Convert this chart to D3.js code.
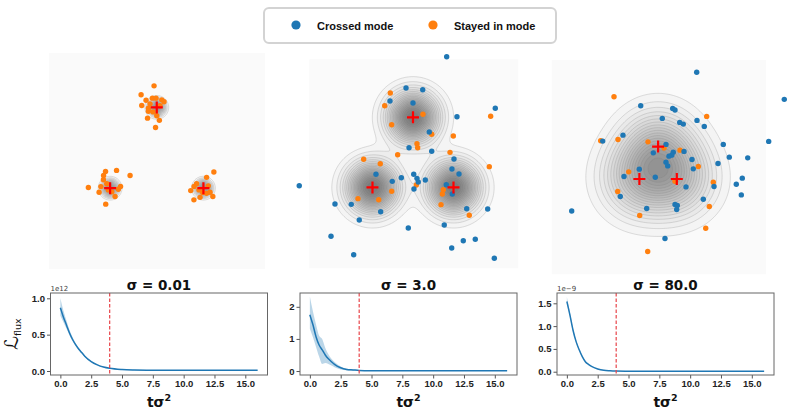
<!DOCTYPE html>
<html>
<head>
<meta charset="utf-8">
<script src="https://cdn.jsdelivr.net/npm/d3@7"></script>
<style>
  body { margin: 0; background: #fff; }
  svg { display: block; font-family: 'DejaVu Sans', sans-serif; }
  .tick text { font-size: 9.5px; font-weight: bold; fill: #222; }
  .tick line { stroke: #555; }
  .title { font-size: 13.5px; font-weight: bold; fill: #111; }
  .xlabel { font-size: 14px; font-weight: bold; fill: #111; }
  .offset { font-size: 7px; fill: #444; }
  .legend text { font-family: 'Liberation Sans', Arial, sans-serif; font-size: 11px; font-weight: bold; fill: #111; }
</style>
</head>
<body>
<svg id="chart" width="794" height="411"></svg>
<script>
// target modes (shared by the three panels) and panel settings
const modes = [[0, 5.77], [-5, -2.89], [5, -2.89]]
const sigmaLabels = ['σ = 0.01', 'σ = 3.0', 'σ = 80.0']
const xLimits = [[-11.55, 11.6], [-12.8, 13.0], [-28.45, 28.85]]
const yLimits = [[-11.55, 11.6], [-12.88, 12.93], [-28.34, 28.88]]
const kernelWidths = [0.52, 2.05, 6.6]

// samples, sigma = 0.01
const crossed1 = []
const stayed1 = [
  [-0.29, 8.08], [-1.68, 7.12], [-1.15, 6.53], [-0.47, 6.76], [-0.08, 6.76], [0.54, 6.58], [0.78, 6.37],
  [-1.61, 5.97], [-0.9, 5.69], [-0.9, 5.35], [-0.99, 4.62], [0, 4.87], [0.28, 4.38], [-0.13, 3.61],
  [-0.72, 6.15], [0.35, 5.94], [-0.4, 5.29],
  [-5.49, -1.1], [-4.31, -0.98], [-5.7, -1.53], [-2.86, -1.53], [-5.72, -1.99], [-7.33, -2.82],
  [-5.99, -2.72], [-6.18, -3.33], [-4.47, -3.78], [-5.47, -4.6], [-3.88, -2.71], [-4.12, -3.01],
  [-5.36, -2.42], [-4.82, -3.28], [-5.19, -3.07],
  [6.12, -1.16], [5.34, -1.73], [4.0, -2.71], [3.64, -3.15], [4.64, -3.87], [3.98, -4.14], [5.34, -3.44],
  [5.53, -2.64], [6.01, -3.78], [5.71, -3.33], [4.93, -3.35], [4.53, -3.07], [4.27, -2.42]
]

// samples, sigma = 3.0
const crossed2 = [
  [4.16, 13.25], [10.16, 6.88], [-0.86, 9.38], [1.2, 9.17], [-2.84, 7.78], [0, 7.53], [5.43, 5.84],
  [2.01, 3.95], [-0.49, 2.01], [2.31, 1.57], [5.06, 0.62], [4.81, -0.62], [5.68, -1.23], [-4.57, -1.27],
  [0.09, -1.27], [-1.44, -1.69], [0.49, -1.77], [0.65, -2.22], [1.52, -1.98], [-2.56, -2.14],
  [0.12, -3.09], [4.11, -2.56], [4.85, -3.7], [-14.04, -2.68], [-9.63, -4.94], [-7.62, -4.98],
  [-3.99, -5.89], [6.63, -5.52], [9.22, -5.56], [-6.63, -6.91], [3.86, -7.53], [-0.58, -7.9],
  [-10.12, -8.93], [-7.32, -11.2], [6.21, -9.47], [7.69, -9.3], [4.78, -10.37], [10.04, -11.64]
]
const stayed2 = [
  [9.59, 5.89], [-2.8, 8.77], [-3.49, 7.2], [1.23, 6.14], [-2.63, 4.85], [2.31, 3.67], [4.98, 3.46],
  [0.49, 2.51], [0.58, 2.01], [4.57, 1.44], [-1.89, 1.15], [-6.09, 0.58], [-4.04, 0.04], [9.42, -0.33],
  [0.41, -2.59], [3.74, -3.17], [3.62, -3.7], [-2.63, -3.37], [-6.79, -4.28], [-4.23, -4.41],
  [3.46, -5.02], [6.95, -6.33]
]

// samples, sigma = 80.0
const crossed3 = [
  [10.32, 25.59], [33.74, 18.37], [-4.65, 16.66], [3.9, 15.96], [4.52, 15.51], [1.12, 13.29],
  [10.4, 12.75], [5.78, 12.22], [6.74, 11.76], [12.35, 11.15], [-9.39, 8.82], [-14.81, 7.22],
  [29.57, 7.14], [2.11, 6.34], [17.43, 6.34], [6.93, 4.47], [4.06, 4.28], [3.64, 3.48], [2.91, 3.21],
  [-1.28, 4.09], [19.04, 2.94], [23.96, 2.75], [9.06, 2.33], [2.11, 1.6], [2.57, 0.61], [16.02, 1.26],
  [9.41, -0.19], [-5.03, -0.27], [-0.75, -2.41], [-9.12, -2.22], [22.51, -2.67], [14.95, -4.89],
  [20.91, -4.28], [7.46, -5.0], [-10.11, -7.57], [22.25, -7.14], [12.09, -8.29], [4.52, -9.71],
  [5.13, -9.97], [4.97, -11.04], [-3.05, -10.78], [-23.1, -11.42], [1.84, -18.8]
]
const stayed3 = [
  [-11.79, 19.06], [12.99, 13.82], [-10.72, 7.67], [-15.35, 7.3], [-2.7, 7.03], [1.58, 5.35],
  [5.86, 4.81], [10.75, 0.45], [-7.86, -0.99], [14.76, -3.74], [4.52, -3.48], [-10.8, -6.23],
  [13.69, -10.24], [-4.92, -12.65], [12.73, -16.04], [-2.78, -22.27]
]

// flux loss curves (mean and band)
const times = [0, 0.25, 0.5, 0.75, 1, 1.25, 1.5, 1.75, 2, 2.5, 3, 3.5, 4, 5, 6, 8, 10, 12, 14, 16]
const loss1 = [0.87, 0.74, 0.63, 0.52, 0.43, 0.36, 0.3, 0.25, 0.2, 0.13, 0.085, 0.055, 0.037, 0.02, 0.014, 0.01, 0.01, 0.01, 0.01, 0.01]
const loss1Lo = [0.76, 0.67, 0.58, 0.49, 0.41, 0.34, 0.285, 0.24, 0.19, 0.124, 0.08, 0.051, 0.034, 0.017, 0.012, 0.008, 0.008, 0.008, 0.008, 0.008]
const loss1Hi = [1.0, 0.83, 0.69, 0.56, 0.46, 0.38, 0.315, 0.26, 0.21, 0.137, 0.09, 0.06, 0.04, 0.023, 0.016, 0.012, 0.012, 0.012, 0.012, 0.012]
const loss2 = [1.75, 1.44, 1.07, 0.81, 0.66, 0.5, 0.38, 0.29, 0.21, 0.1, 0.05, 0.035, 0.02, 0.012, 0.01, 0.01, 0.01, 0.01, 0.01, 0.01]
const loss2Lo = [1.32, 1.05, 0.75, 0.45, 0.22, 0.25, 0.22, 0.17, 0.12, 0.05, 0.02, 0.01, 0.005, 0.003, 0.003, 0.003, 0.003, 0.003, 0.003, 0.003]
const loss2Hi = [2.32, 1.85, 1.45, 1.1, 1.0, 0.72, 0.52, 0.38, 0.28, 0.14, 0.07, 0.05, 0.035, 0.022, 0.018, 0.016, 0.016, 0.016, 0.016, 0.016]
const loss3 = [1.54, 1.24, 0.91, 0.66, 0.48, 0.33, 0.22, 0.16, 0.115, 0.06, 0.03, 0.02, 0.015, 0.012, 0.01, 0.01, 0.01, 0.01, 0.01, 0.01]
const loss3Lo = [1.5, 1.21, 0.89, 0.645, 0.47, 0.323, 0.215, 0.156, 0.112, 0.058, 0.029, 0.019, 0.014, 0.011, 0.009, 0.009, 0.009, 0.009, 0.009, 0.009]
const loss3Hi = [1.64, 1.3, 0.95, 0.69, 0.5, 0.345, 0.23, 0.166, 0.12, 0.063, 0.032, 0.021, 0.016, 0.013, 0.011, 0.011, 0.011, 0.011, 0.011, 0.011]
const switchTime = 4

// axes
const xDomain = [-0.8, 16.8]
const xTicks = [0, 2.5, 5, 7.5, 10, 12.5, 15]
const yDomains = [[-0.055, 1.073], [-0.124, 2.43], [-0.072, 1.726]]
const yTicks = [[0, 0.5, 1.0], [0, 1, 2], [0, 0.5, 1.0, 1.5]]
const yFormats = ['.1f', 'd', '.1f']
const offsetLabels = ['1e12', '', '1e\u22129']
const legendLabels = ['Crossed mode', 'Stayed in mode']

const blue = '#1f77b4'
const orange = '#ff7f0e'

const svg = d3.select('#chart')

// ---------- legend ----------
const legend = svg.append('g').attr('class', 'legend')
legend.append('rect')
  .attr('x', 264).attr('y', 8).attr('width', 292).attr('height', 35)
  .attr('rx', 5).attr('fill', '#fff').attr('stroke', '#d3d3d3').attr('stroke-width', 2)
const legendX = d3.scalePoint().domain(legendLabels).range([296, 433])
legendLabels.forEach((label, i) => {
  legend.append('circle')
    .attr('cx', legendX(label)).attr('cy', 25).attr('r', 4.6)
    .attr('fill', i === 0 ? blue : orange)
  legend.append('text')
    .attr('x', legendX(label) + 21).attr('y', 29.5)
    .text(label)
})

// ---------- density panels ----------
const panelBoxes = [
  { left: 49, top: 53, size: 216 },
  { left: 309.3, top: 59.3, size: 209 },
  { left: 551.7, top: 60, size: 214.3 }
]
const darkest = ['#999999', '#7c7c7c', '#939393']
const crossedSets = [crossed1, crossed2, crossed3]
const stayedSets = [stayed1, stayed2, stayed3]

const drawPanel = (k) => {
  const box = panelBoxes[k]
  const w = kernelWidths[k]
  const x = d3.scaleLinear().domain(xLimits[k]).range([box.left, box.left + box.size])
  const y = d3.scaleLinear().domain(yLimits[k]).range([box.top + box.size, box.top])
  const g = svg.append('g')

  g.append('rect')
    .attr('x', box.left).attr('y', box.top)
    .attr('width', box.size).attr('height', box.size)
    .attr('fill', '#fafafa')

  // gaussian mixture on a grid around the modes
  const n = 220
  const values = new Float64Array(n * n)
  for (let j = 0; j < n; j++) {
    const gy = y.invert(box.top + (j + 0.5) / n * box.size)
    for (let i = 0; i < n; i++) {
      const gx = x.invert(box.left + (i + 0.5) / n * box.size)
      let s = 0
      modes.forEach(([mx, my]) => {
        s += Math.exp(-((gx - mx) ** 2 + (gy - my) ** 2) / (2 * w * w))
      })
      values[j * n + i] = s
    }
  }
  const maxV = d3.max(values)
  const levels = 20
  const thresholds = d3.range(1, levels).map(l => maxV * l / levels)
  const bands = d3.contours().size([n, n]).thresholds(thresholds)(values)
  const grey = d3.interpolateRgb('#f4f4f4', darkest[k])
  const path = d3.geoPath(d3.geoTransform({
    point (px, py) {
      this.stream.point(box.left + px / n * box.size, box.top + py / n * box.size)
    }
  }))
  g.selectAll('path.band')
    .data(bands)
    .join('path')
    .attr('class', 'band')
    .attr('d', path)
    .attr('fill', (d, i) => grey(i / (levels - 2)))
    .attr('stroke', '#808080')
    .attr('stroke-opacity', 0.5)
    .attr('stroke-width', 0.5)

  g.selectAll('circle.stayed')
    .data(stayedSets[k])
    .join('circle')
    .attr('class', 'stayed')
    .attr('cx', d => x(d[0])).attr('cy', d => y(d[1]))
    .attr('r', 2.7).attr('fill', orange)

  g.selectAll('circle.crossed')
    .data(crossedSets[k])
    .join('circle')
    .attr('class', 'crossed')
    .attr('cx', d => x(d[0])).attr('cy', d => y(d[1]))
    .attr('r', 2.7).attr('fill', blue)

  g.selectAll('path.mode')
    .data(modes)
    .join('path')
    .attr('class', 'mode')
    .attr('transform', d => 'translate(' + x(d[0]) + ',' + y(d[1]) + ')')
    .attr('d', 'M-6,0H6M0,-6V6')
    .attr('stroke', '#ff0000')
    .attr('stroke-width', 2.2)
}
[0, 1, 2].forEach(drawPanel)

// ---------- loss curves ----------
const lossBoxes = [
  { left: 50.5, top: 293, width: 217, height: 82 },
  { left: 300, top: 293, width: 217, height: 82 },
  { left: 557, top: 293, width: 217, height: 82 }
]
const lossSets = [[loss1, loss1Lo, loss1Hi], [loss2, loss2Lo, loss2Hi], [loss3, loss3Lo, loss3Hi]]

const drawLoss = (k) => {
  const b = lossBoxes[k]
  const [mean, lo, hi] = lossSets[k]
  const x = d3.scaleLinear().domain(xDomain).range([b.left, b.left + b.width])
  const y = d3.scaleLinear().domain(yDomains[k]).range([b.top + b.height, b.top])
  const g = svg.append('g')

  const area = d3.area()
    .x((d, i) => x(times[i]))
    .y0((d, i) => y(lo[i]))
    .y1((d, i) => y(hi[i]))
    .curve(d3.curveMonotoneX)
  g.append('path').datum(mean)
    .attr('d', area).attr('fill', blue).attr('fill-opacity', 0.3)

  const line = d3.line()
    .x((d, i) => x(times[i]))
    .y(d => y(d))
    .curve(d3.curveMonotoneX)
  g.append('path').datum(mean)
    .attr('d', line).attr('fill', 'none').attr('stroke', blue).attr('stroke-width', 1.5)

  g.append('line')
    .attr('x1', x(switchTime)).attr('x2', x(switchTime))
    .attr('y1', b.top).attr('y2', b.top + b.height)
    .attr('stroke', '#e8454a').attr('stroke-width', 1.2).attr('stroke-dasharray', '3.5,2')

  const xAxis = d3.axisBottom(x).tickValues(xTicks).tickFormat(d3.format('.1f')).tickSize(3.5).tickPadding(2)
  g.append('g')
    .attr('transform', 'translate(0,' + (b.top + b.height) + ')')
    .call(xAxis)
    .call(s => s.select('.domain').remove())

  const yAxis = d3.axisLeft(y).tickValues(yTicks[k]).tickFormat(d3.format(yFormats[k])).tickSize(3.5).tickPadding(2)
  g.append('g')
    .attr('transform', 'translate(' + b.left + ',0)')
    .call(yAxis)
    .call(s => s.select('.domain').remove())

  g.append('rect')
    .attr('x', b.left).attr('y', b.top).attr('width', b.width).attr('height', b.height)
    .attr('fill', 'none').attr('stroke', '#666').attr('stroke-width', 1)

  g.append('text')
    .attr('class', 'title')
    .attr('x', b.left + b.width / 2).attr('y', b.top - 3.5)
    .attr('text-anchor', 'middle')
    .text(sigmaLabels[k])

  const xl = g.append('text')
    .attr('class', 'xlabel')
    .attr('x', b.left + b.width / 2).attr('y', 406.5)
    .attr('text-anchor', 'middle')
  xl.append('tspan').text('tσ')
  xl.append('tspan').attr('dy', -5.5).attr('font-size', 9.5).text('2')

  if (offsetLabels[k]) {
    g.append('text')
      .attr('class', 'offset')
      .attr('x', b.left).attr('y', b.top - 2)
      .text(offsetLabels[k])
  }
}
[0, 1, 2].forEach(drawLoss)

// y label of the first loss plot
const yl = svg.append('text')
  .attr('transform', 'translate(18,' + (lossBoxes[0].top + lossBoxes[0].height / 2) + ') rotate(-90)')
  .attr('text-anchor', 'middle')
  .attr('fill', '#111')
yl.append('tspan').attr('font-size', 19).attr('font-style', 'italic').text('ℒ')
yl.append('tspan').attr('font-size', 9.5).attr('dy', 3).text('flux')
</script>
</body>
</html>
